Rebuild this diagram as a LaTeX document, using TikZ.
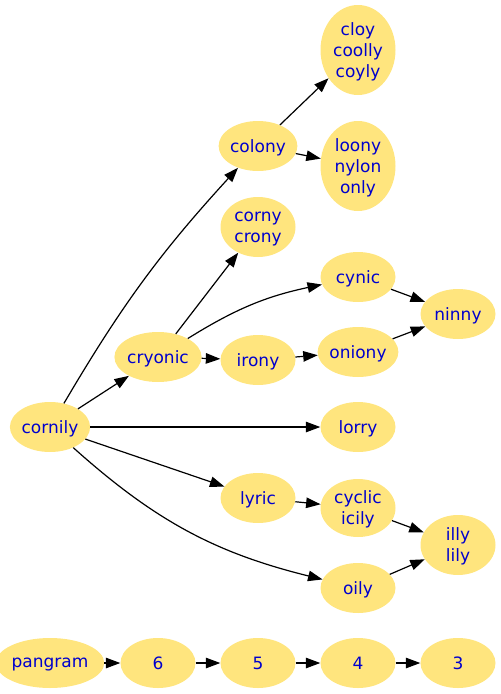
\documentclass[tikz,border=0pt]{standalone}
\usepackage{fontspec}
\setmainfont{DejaVu Sans}
\usetikzlibrary{shapes.geometric,arrows.meta}
\definecolor{nodefill}{HTML}{FFE57E}
\definecolor{nodetext}{HTML}{0000CD}
\tikzset{
  wnode/.style={ellipse, fill=nodefill, text=nodetext, inner sep=0pt,
    minimum width=75pt, minimum height=50pt, align=center, text depth=0pt,
    font=\fontsize{17}{21}\selectfont},
  edge/.style={draw=black, line width=1.2pt, -{Triangle[length=14.5pt,width=10.5pt]}}
}
\begin{document}
\begin{tikzpicture}[x=1pt,y=-1pt]
\useasboundingbox (0,0) rectangle (501,694);
\node[wnode, minimum height=90pt] (cloy) at (358,50) {cloy\\coolly\\coyly};
\node[wnode] (colony) at (258,146) {colony};
\node[wnode, minimum height=90pt] (loony) at (358,166) {loony\\nylon\\only};
\node[wnode, minimum height=60pt] (corny) at (258,227) {corny\\crony};
\node[wnode] (cynic) at (358,277) {cynic};
\node[wnode] (ninny) at (458,314) {ninny};
\node[wnode] (cryonic) at (158,357) {cryonic};
\node[wnode] (irony) at (258,360) {irony};
\node[wnode] (oniony) at (358,352) {oniony};
\node[wnode] (cornily) at (50,427) {cornily};
\node[wnode] (lorry) at (358,427) {lorry};
\node[wnode] (lyric) at (258,498) {lyric};
\node[wnode, minimum height=58pt] (cyclic) at (358,508) {cyclic\\icily};
\node[wnode, minimum height=60pt] (illy) at (458,545) {illy\\lily};
\node[wnode] (oily) at (358,588) {oily};
\node[wnode, minimum width=91pt] (pangram) at (50,663) {pangram};
\node[wnode] (n6) at (158,663) {6};
\node[wnode] (n5) at (258,663) {5};
\node[wnode] (n4) at (358,663) {4};
\node[wnode] (n3) at (458,663) {3};

\draw[edge] (cornily) to[bend left=6] (colony);
\draw[edge] (cornily) -- (cryonic);
\draw[edge] (cornily) -- (lorry);
\draw[edge] (cornily) -- (lyric);
\draw[edge] (cornily) to[bend right=14] (oily);
\draw[edge] (cryonic) -- (corny);
\draw[edge] (cryonic) to[bend left=10] (cynic);
\draw[edge] (cryonic) -- (irony);
\draw[edge] (irony) -- (oniony);
\draw[edge] (colony) -- (cloy);
\draw[edge] (colony) -- (loony);
\draw[edge] (cynic) -- (ninny);
\draw[edge] (oniony) -- (ninny);
\draw[edge] (lyric) -- (cyclic);
\draw[edge] (cyclic) -- (illy);
\draw[edge] (oily) -- (illy);
\draw[edge] (pangram) -- (n6);
\draw[edge] (n6) -- (n5);
\draw[edge] (n5) -- (n4);
\draw[edge] (n4) -- (n3);
\end{tikzpicture}
\end{document}
